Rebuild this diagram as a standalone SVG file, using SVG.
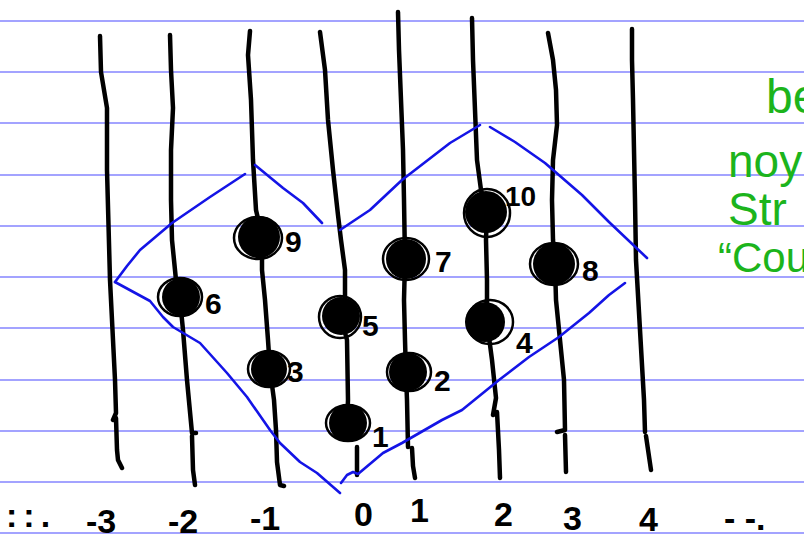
<svg xmlns="http://www.w3.org/2000/svg" width="804" height="539" viewBox="0 0 804 539">
<style>
.rule{stroke:#8484ff;stroke-width:1.6;fill:none}
.str{stroke:#000;stroke-width:4.5;fill:none;stroke-linecap:round;stroke-linejoin:round}
.blu{stroke:#1414e6;stroke-width:2.6;fill:none;stroke-linecap:round;stroke-linejoin:round}
.dot{fill:#000}
.scr{fill:none;stroke:#000;stroke-width:2.5}
.lbl{font-family:"Liberation Sans",sans-serif;font-size:30px;font-weight:bold;fill:#000}
.ax{font-family:"Liberation Sans",sans-serif;font-size:34px;font-weight:bold;fill:#000}
.grn{font-family:"Liberation Sans",sans-serif;fill:#1cb41c}
</style>
<rect width="804" height="539" fill="#fff"/>
<g id="rules">
<line class="rule" x1="0" y1="21" x2="804" y2="21"/>
<line class="rule" x1="0" y1="72" x2="804" y2="72"/>
<line class="rule" x1="0" y1="123" x2="804" y2="123"/>
<line class="rule" x1="0" y1="175" x2="804" y2="175"/>
<line class="rule" x1="0" y1="226" x2="804" y2="226"/>
<line class="rule" x1="0" y1="277" x2="804" y2="277"/>
<line class="rule" x1="0" y1="328" x2="804" y2="328"/>
<line class="rule" x1="0" y1="380" x2="804" y2="380"/>
<line class="rule" x1="0" y1="431" x2="804" y2="431"/>
<line class="rule" x1="0" y1="482" x2="804" y2="482"/>
<line class="rule" x1="0" y1="533" x2="804" y2="533"/>
</g>
<g id="connectors">
<g id="strings">
<path class="str" d="M100,36 L101,72 L107,108 L107,170 L110,280 L115,380 L116,413 L113,420 M116,418 L117,450 L118,460 L122,468"/>
<path class="str" d="M170,35 L171,70 L173,108 L171,150 L171,200 L172,240 L176,280 L180,300 L183,330 L187,380 L192,433 L196,433 M192,436 L193,470 L195,485"/>
<path class="str" d="M250,31 L248,55 L251,100 L253,160 L256,210 L262,236 L262,270 L265,300 L268,340 L270,370 L274,400 L276,430 L277,462 L280,485 L284,486"/>
<path class="str" d="M320,32 L325,70 L328,120 L333,170 L338,215 L341,240 L345,270 L345,300 L341,318 L347,340 L348,400 L347,423 M357,447 L357,475"/>
<path class="str" d="M398,12 L399,50 L401,100 L403,150 L404,200 L405,260 L404,300 L405,340 L406,375 L407,400 L408,447 M412,448 L413,466 L415,478"/>
<path class="str" d="M472,18 L473,60 L475,110 L477,160 L481,190 L487,210 L486,240 L487,280 L487,322 L492,360 L496,398 L493,415 M497,412 L499,450 L500,478"/>
<path class="str" d="M548,33 L553,60 L556,90 L557,125 L553,160 L552,200 L553,240 L555,265 L556,300 L560,340 L564,380 L565,430 L557,432 M565,435 L566,472"/>
<path class="str" d="M632,29 L632,60 L633,100 L634,150 L635,200 L636,260 L640,330 L644,400 L645,432 M646,436 L651,470"/>
</g>
<g id="boundary">
<path class="blu" d="M245,174 L210,197 L172,223 L140,250 L127,266 L115,282"/>
<path class="blu" d="M115,282 L150,301 L163,317 L173,327 L200,343 L227,373 L247,397 L270,430 L280,443 L300,462 L317,473 L340,493"/>
<path class="blu" d="M255,165 L283,188 L303,203 L322,223"/>
<path class="blu" d="M340,230 L370,210 L402,180 L450,143 L480,125"/>
<path class="blu" d="M490,127 L515,142 L545,163 L582,195 L609,222 L647,258"/>
<path class="blu" d="M341,483 L347,475 L353,472 L358,474 L383,453 L402,443 L442,420 L462,410 L499,380 L529,357 L559,337 L589,313 L609,295 L625,283"/>
</g>
</g>
<g id="node9"><circle class="dot" cx="259" cy="237" r="21"/><ellipse class="scr" cx="258" cy="238" rx="24" ry="21"/><text class="lbl" x="285" y="252">9</text></g>
<g id="node6"><circle class="dot" cx="181" cy="297" r="19"/><ellipse class="scr" cx="180" cy="297" rx="22" ry="19"/><text class="lbl" x="205" y="314">6</text></g>
<g id="node3"><circle class="dot" cx="269" cy="369" r="18"/><ellipse class="scr" cx="269" cy="369" rx="21" ry="18"/><text class="lbl" x="287" y="382">3</text></g>
<g id="node5"><circle class="dot" cx="341" cy="316" r="19"/><ellipse class="scr" cx="340" cy="317" rx="21" ry="21"/><text class="lbl" x="362" y="336">5</text></g>
<g id="node1"><circle class="dot" cx="348" cy="423" r="19"/><ellipse class="scr" cx="348" cy="423" rx="22" ry="18"/><text class="lbl" x="372" y="447">1</text></g>
<g id="node7"><circle class="dot" cx="406" cy="259" r="20"/><ellipse class="scr" cx="406" cy="259" rx="23" ry="21"/><text class="lbl" x="435" y="272">7</text></g>
<g id="node2"><circle class="dot" cx="408" cy="372" r="19"/><ellipse class="scr" cx="409" cy="372" rx="22" ry="19"/><text class="lbl" x="434" y="391">2</text></g>
<g id="node10"><circle class="dot" cx="486" cy="212" r="21"/><ellipse class="scr" cx="487" cy="213" rx="23" ry="24"/><text class="lbl" x="505" y="206" style="font-size:28px">10</text></g>
<g id="node4"><circle class="dot" cx="485" cy="322" r="20"/><ellipse class="scr" cx="490" cy="322" rx="23" ry="22"/><text class="lbl" x="516" y="353">4</text></g>
<g id="node8"><circle class="dot" cx="554" cy="264" r="21"/><ellipse class="scr" cx="554" cy="264" rx="24" ry="21"/><text class="lbl" x="582" y="281">8</text></g>
<g id="axis">
<text class="ax" x="6" y="527" style="font-size:34px;letter-spacing:6px">::.</text>
<text class="ax" x="86" y="533">-3</text>
<text class="ax" x="168" y="533">-2</text>
<text class="ax" x="250" y="530">-1</text>
<text class="ax" x="354" y="526">0</text>
<text class="ax" x="410" y="522">1</text>
<text class="ax" x="494" y="526">2</text>
<text class="ax" x="563" y="530">3</text>
<text class="ax" x="639" y="531">4</text>
<text class="ax" x="724" y="530">-  -.</text>
</g>
<g id="note">
<text class="grn" x="766" y="113" style="font-size:48px">be</text>
<text class="grn" x="728" y="177" style="font-size:46px">noy</text>
<text class="grn" x="728" y="225" style="font-size:46px">Str</text>
<text class="grn" x="718" y="272" style="font-size:42px">“Cou</text>
</g>
</svg>
